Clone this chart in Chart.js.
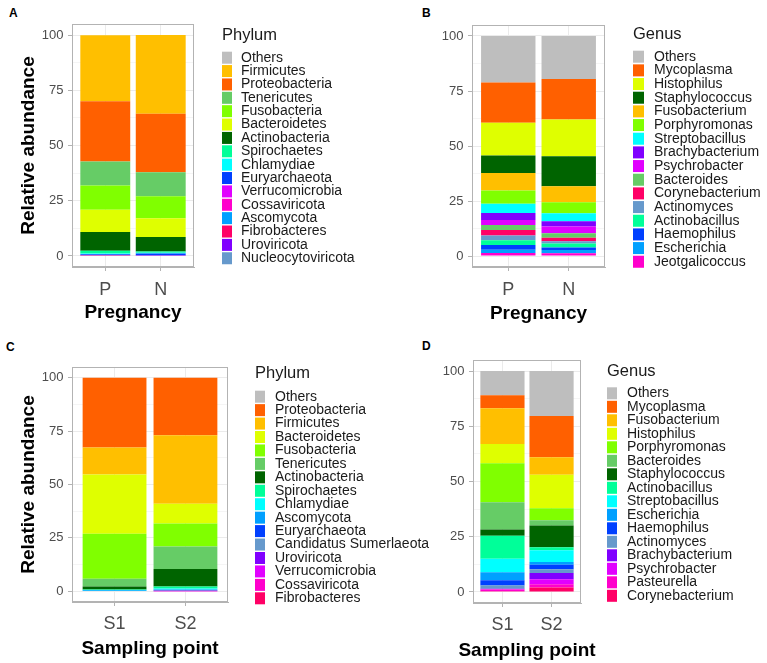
<!DOCTYPE html>
<html>
<head>
<meta charset="utf-8">
<script src="https://cdn.jsdelivr.net/npm/chart.js@4.4.0/dist/chart.umd.min.js"></script>
<style>
  body { margin: 0; background: #fff; }
  #fig { position: relative; width: 767px; height: 663px; font-family: 'Liberation Sans', Arial, sans-serif; overflow: hidden; }
  #fig canvas { position: absolute; }
  .tag { position: absolute; font-weight: bold; font-size: 12px; line-height: 12px; color: #000; }
</style>
</head>
<body>
<div id="fig">
  <div class="tag" style="left:9px;top:7px">A</div>
  <div class="tag" style="left:422px;top:7px">B</div>
  <div class="tag" style="left:6px;top:341px">C</div>
  <div class="tag" style="left:422px;top:340px">D</div>
  <canvas id="chartA" width="383" height="330" style="left:0;top:0"></canvas>
  <canvas id="chartB" width="383" height="330" style="left:384px;top:0"></canvas>
  <canvas id="chartC" width="445" height="331" style="left:0;top:332px"></canvas>
  <canvas id="chartD" width="383" height="331" style="left:384px;top:332px"></canvas>
</div>
<script>
// --- data (legend order, top of stack first) ---
const pregnancyGroups = ['P', 'N'];
const samplingGroups = ['S1', 'S2'];
const yTickValues = [0, 12.5, 25, 37.5, 50, 62.5, 75, 87.5, 100];

const phylumPreg = ['Others', 'Firmicutes', 'Proteobacteria', 'Tenericutes', 'Fusobacteria', 'Bacteroidetes',
  'Actinobacteria', 'Spirochaetes', 'Chlamydiae', 'Euryarchaeota', 'Verrucomicrobia', 'Cossaviricota',
  'Ascomycota', 'Fibrobacteres', 'Uroviricota', 'Nucleocytoviricota'];
const phylumPregP = [0, 29.9, 27.3, 10.9, 10.9, 10.1, 8.5, 1.2, 0.4, 0.3, 0.1, 0.1, 0.1, 0.05, 0.05, 0.05];
const phylumPregN = [0, 35.6, 26.5, 10.9, 9.9, 8.5, 6.6, 0.6, 0.3, 0.7, 0.1, 0.1, 0.1, 0.05, 0.05, 0];

const genusPreg = ['Others', 'Mycoplasma', 'Histophilus', 'Staphylococcus', 'Fusobacterium', 'Porphyromonas',
  'Streptobacillus', 'Brachybacterium', 'Psychrobacter', 'Bacteroides', 'Corynebacterium', 'Actinomyces',
  'Actinobacillus', 'Haemophilus', 'Escherichia', 'Jeotgalicoccus'];
const genusPregP = [21.1, 18.3, 14.9, 8.0, 7.9, 6.0, 4.2, 3.2, 2.3, 2.3, 2.5, 2.1, 2.2, 2.2, 1.4, 1.4];
const genusPregN = [19.5, 18.5, 16.7, 13.6, 7.3, 5.0, 3.6, 2.4, 3.1, 2.0, 1.6, 1.0, 1.8, 1.2, 1.5, 1.2];

const phylumSite = ['Others', 'Proteobacteria', 'Firmicutes', 'Bacteroidetes', 'Fusobacteria', 'Tenericutes',
  'Actinobacteria', 'Spirochaetes', 'Chlamydiae', 'Ascomycota', 'Euryarchaeota', 'Candidatus Sumerlaeota',
  'Uroviricota', 'Verrucomicrobia', 'Cossaviricota', 'Fibrobacteres'];
const phylumSiteS1 = [0, 32.7, 12.6, 27.8, 21.0, 3.7, 1.4, 0.2, 0.3, 0.2, 0.1, 0, 0, 0, 0, 0];
const phylumSiteS2 = [0, 26.9, 32.1, 9.3, 10.7, 10.6, 8.1, 1.0, 0.5, 0.3, 0.2, 0.1, 0.1, 0.05, 0.05, 0];

const genusSite = ['Others', 'Mycoplasma', 'Fusobacterium', 'Histophilus', 'Porphyromonas', 'Bacteroides',
  'Staphylococcus', 'Actinobacillus', 'Streptobacillus', 'Escherichia', 'Haemophilus', 'Actinomyces',
  'Brachybacterium', 'Psychrobacter', 'Pasteurella', 'Corynebacterium'];
const genusSiteS1 = [11.0, 5.8, 16.2, 8.7, 17.7, 12.3, 2.9, 10.4, 6.1, 3.6, 2.4, 1.5, 0.1, 0.2, 0.8, 0.3];
const genusSiteS2 = [20.3, 18.7, 7.9, 15.2, 5.4, 2.4, 9.9, 1.3, 5.3, 1.3, 2.0, 1.7, 2.8, 2.3, 1.5, 2.0];

// colours per taxon
const taxonColors = {
  'Others': '#BEBEBE',
  'Firmicutes': '#FFBF00', 'Fusobacterium': '#FFBF00',
  'Proteobacteria': '#FF6000', 'Mycoplasma': '#FF6000',
  'Tenericutes': '#66CC66', 'Bacteroides': '#66CC66',
  'Fusobacteria': '#80FF00', 'Porphyromonas': '#80FF00',
  'Bacteroidetes': '#DFFF00', 'Histophilus': '#DFFF00',
  'Actinobacteria': '#006400', 'Staphylococcus': '#006400',
  'Spirochaetes': '#00FF99', 'Actinobacillus': '#00FF99',
  'Chlamydiae': '#00FFFF', 'Streptobacillus': '#00FFFF',
  'Euryarchaeota': '#0040FF', 'Haemophilus': '#0040FF',
  'Verrucomicrobia': '#E100FF', 'Psychrobacter': '#E100FF',
  'Cossaviricota': '#FF00CC', 'Jeotgalicoccus': '#FF00CC', 'Pasteurella': '#FF00CC',
  'Ascomycota': '#00A0FF', 'Escherichia': '#00A0FF',
  'Fibrobacteres': '#FF0066', 'Corynebacterium': '#FF0066',
  'Uroviricota': '#8000FF', 'Brachybacterium': '#8000FF',
  'Nucleocytoviricota': '#6699CC', 'Actinomyces': '#6699CC', 'Candidatus Sumerlaeota': '#6699CC'
};

const FONT = "'Liberation Sans', Arial, sans-serif";
Chart.defaults.font.family = FONT;

// legend on the right, drawn from the datasets (top of stack first)
const sideLegend = {
  id: 'sideLegend',
  afterDraw(chart, args, o) {
    const ctx = chart.ctx;
    ctx.save();
    ctx.textAlign = 'left';
    ctx.textBaseline = 'middle';
    ctx.fillStyle = '#1A1A1A';
    ctx.font = o.titleSize + 'px ' + FONT;
    ctx.fillText(o.title, o.x, o.titleY);
    ctx.font = o.size + 'px ' + FONT;
    chart.data.datasets.slice().reverse().forEach((ds, i) => {
      const y = o.firstY + i * o.step;
      ctx.fillStyle = ds.backgroundColor;
      ctx.fillRect(o.x, y - o.boxH / 2, o.boxW, o.boxH);
      ctx.fillStyle = '#1A1A1A';
      ctx.fillText(ds.label, o.textX, y);
    });
    ctx.restore();
  }
};

// grey frame round the panel, plus the x axis title (not squeezed to the panel width)
const panelBorder = {
  id: 'panelBorder',
  afterDatasetsDraw(chart) {
    const {ctx, chartArea: a} = chart;
    ctx.save();
    ctx.strokeStyle = '#B3B3B3';
    ctx.lineWidth = 1;
    ctx.strokeRect(Math.round(a.left) + 0.5, Math.round(a.top) + 0.5,
      Math.round(a.right - a.left) - 1, Math.round(a.bottom - a.top) - 1);
    ctx.restore();
  },
  afterDraw(chart, args, o) {
    const {ctx, chartArea: a} = chart;
    ctx.save();
    ctx.font = 'bold 19px ' + FONT;
    ctx.fillStyle = '#000';
    ctx.textAlign = 'center';
    ctx.textBaseline = 'middle';
    ctx.fillText(o.xTitle, (a.left + a.right) / 2, chart.height - 11.4 - o.pad);
    ctx.restore();
  }
};

function stackedPanel(id, groups, taxa, seriesByGroup, cfg) {
  const datasets = taxa.map((name, i) => ({
    label: name,
    data: groups.map((g, j) => ({x: j + 1, y: seriesByGroup[j][i]})),
    backgroundColor: taxonColors[name],
    borderWidth: 0
  })).reverse();

  const isMajor = v => v % 25 === 0;

  new Chart(document.getElementById(id), {
    type: 'bar',
    data: {datasets: datasets},
    plugins: [sideLegend, panelBorder],
    options: {
      responsive: false,
      animation: false,
      layout: {padding: {left: 0, top: cfg.top, right: cfg.right, bottom: 0}},
      datasets: {bar: {categoryPercentage: 1, barPercentage: 0.9}},
      plugins: {
        legend: {display: false},
        tooltip: {enabled: false},
        sideLegend: cfg.legend,
        panelBorder: {xTitle: cfg.xTitle, pad: cfg.xTitlePad}
      },
      scales: {
        x: {
          type: 'linear',
          stacked: true,
          offset: false,
          min: 0.4,
          max: 2.6,
          afterBuildTicks: s => { s.ticks = groups.map((g, j) => ({value: j + 1})); },
          afterFit: s => { s.height = cfg.xHeight; },
          ticks: {
            callback: v => groups[v - 1],
            autoSkip: false,
            maxRotation: 0,
            padding: cfg.xPad,
            color: '#4D4D4D',
            font: {size: 18}
          },
          grid: {color: '#EBEBEB', tickColor: '#B3B3B3', tickLength: 4, offset: false},
          border: {color: '#B3B3B3'},
          title: {display: false}
        },
        y: {
          stacked: true,
          min: -5,
          max: 105,
          afterBuildTicks: s => { s.ticks = yTickValues.map(v => ({value: v})); },
          afterFit: s => { s.width = cfg.yWidth; },
          ticks: {
            callback: v => isMajor(v) ? String(v) : '',
            padding: 4.5,
            color: '#4D4D4D',
            font: {size: 13}
          },
          grid: {
            color: c => (c.tick && isMajor(c.tick.value)) ? '#EBEBEB' : '#F5F5F5',
            tickColor: c => (c.tick && isMajor(c.tick.value)) ? '#B3B3B3' : 'rgba(0,0,0,0)',
            tickLength: 4
          },
          border: {color: '#B3B3B3'},
          title: {
            display: !!cfg.yTitle,
            text: cfg.yTitle || '',
            color: '#000',
            font: {size: 19, weight: 'bold'},
            padding: {top: 17.6, bottom: 0}
          }
        }
      }
    }
  });
}

stackedPanel('chartA', pregnancyGroups, phylumPreg, [phylumPregP, phylumPregN], {
  top: 24, right: 189, xHeight: 63, yWidth: 72, xPad: 8, xTitlePad: 6,
  xTitle: 'Pregnancy', yTitle: 'Relative abundance',
  legend: {title: 'Phylum', titleSize: 16.5, size: 14, x: 222, titleY: 35, firstY: 57.7, step: 13.37,
    boxW: 10, boxH: 12, textX: 241}
});

stackedPanel('chartB', pregnancyGroups, genusPreg, [genusPregP, genusPregN], {
  top: 25, right: 162, xHeight: 63, yWidth: 88, xPad: 8, xTitlePad: 5,
  xTitle: 'Pregnancy',
  legend: {title: 'Genus', titleSize: 16.5, size: 14, x: 249, titleY: 34, firstY: 56.7, step: 13.67,
    boxW: 11, boxH: 12, textX: 270}
});

stackedPanel('chartC', samplingGroups, phylumSite, [phylumSiteS1, phylumSiteS2], {
  top: 35, right: 217, xHeight: 61, yWidth: 72, xPad: 7, xTitlePad: 2.6,
  xTitle: 'Sampling point', yTitle: 'Relative abundance',
  legend: {title: 'Phylum', titleSize: 16.5, size: 14, x: 255, titleY: 41, firstY: 64.7, step: 13.44,
    boxW: 10, boxH: 12, textX: 275}
});

stackedPanel('chartD', samplingGroups, genusSite, [genusSiteS1, genusSiteS2], {
  top: 28, right: 186, xHeight: 60, yWidth: 89, xPad: 7, xTitlePad: 0.5,
  xTitle: 'Sampling point',
  legend: {title: 'Genus', titleSize: 16.5, size: 14, x: 223, titleY: 39, firstY: 61.3, step: 13.5,
    boxW: 10, boxH: 12, textX: 243}
});
</script>
</body>
</html>
